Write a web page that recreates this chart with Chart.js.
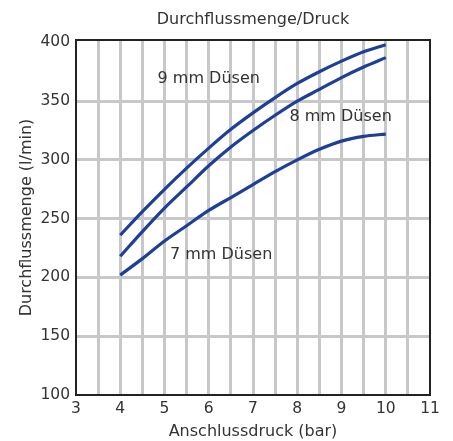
<!DOCTYPE html>
<html>
<head>
<meta charset="utf-8">
<script src="https://cdn.jsdelivr.net/npm/chart.js@4/dist/chart.umd.min.js"></script>
<style>
  html, body { margin: 0; padding: 0; background: #fff; }
  #wrap { width: 453px; height: 441px; }
</style>
</head>
<body>
<div id="wrap"><canvas id="c" width="453" height="441"></canvas></div>
<script>
const pressure = [4, 4.5, 5, 5.5, 6, 6.5, 7, 7.5, 8, 8.5, 9, 9.5, 10];
const flow9mm = [236, 256, 275, 293, 310, 326, 340, 353, 365, 375, 384, 392, 398];
const flow8mm = [218, 239, 259, 277, 295, 311, 325, 338, 350, 360, 370, 379, 387];
const flow7mm = [202, 216, 231, 244, 257, 268, 279, 290, 300, 309, 316, 320, 322];
const seriesNames = ['9 mm Düsen', '8 mm Düsen', '7 mm Düsen'];
const labelX = [6.0, 8.98, 6.28];
const labelY = [369, 337, 219];
const yTickValues = [100, 150, 200, 250, 300, 350, 400];
const chartTitle = 'Durchflussmenge/Druck';

const FONT = 'DejaVu Sans, Verdana, sans-serif';
const LINE = '#1e3f98';
const TEXT = '#333333';

function toPoints(ys) { return pressure.map((x, i) => ({x: x, y: ys[i]})); }

const framePlugin = {
  id: 'frame',
  beforeDatasetsDraw(chart) {
    const {ctx, chartArea: a} = chart;
    ctx.save();
    ctx.strokeStyle = '#222';
    ctx.lineWidth = 2;
    ctx.strokeRect(a.left, a.top, a.right - a.left, a.bottom - a.top);
    ctx.restore();
  },
  afterDatasetsDraw(chart) {
    const {ctx, scales, chartArea: a} = chart;
    ctx.save();
    ctx.fillStyle = TEXT;
    ctx.font = '16px ' + FONT;
    ctx.textAlign = 'center';
    ctx.textBaseline = 'middle';
    seriesNames.forEach((n, i) => {
      ctx.fillText(n, scales.x.getPixelForValue(labelX[i]), scales.y.getPixelForValue(labelY[i]));
    });
    ctx.fillText(chartTitle, (a.left + a.right) / 2, 20);
    ctx.restore();
  }
};

const ds = (data, label) => ({
  label: label, data: toPoints(data), borderColor: LINE, borderWidth: 3.2,
  pointRadius: 0, tension: 0.4, cubicInterpolationMode: 'monotone', fill: false
});

new Chart(document.getElementById('c'), {
  type: 'line',
  data: { datasets: [ds(flow9mm, seriesNames[0]), ds(flow8mm, seriesNames[1]), ds(flow7mm, seriesNames[2])] },
  plugins: [framePlugin],
  options: {
    responsive: false,
    animation: false,
    events: [],
    layout: { padding: { left: 0, right: 23, top: 40, bottom: 0 } },
    plugins: {
      legend: { display: false },
      tooltip: { enabled: false },
      title: { display: false }
    },
    scales: {
      x: {
        type: 'linear', min: 3, max: 11,
        afterFit(s) { s.height = 46; },
        grid: {
          color: (c) => (c.tick && (c.tick.value === 3 || c.tick.value === 11)) ? 'rgba(0,0,0,0)' : '#c8c8c8',
          lineWidth: 3, drawTicks: false
        },
        border: { display: false },
        ticks: {
          stepSize: 0.5, autoSkip: false, maxRotation: 0, padding: 5, color: TEXT,
          font: { family: FONT, size: 15.5 },
          callback: (v) => Number.isInteger(v) ? String(v) : ''
        },
        title: {
          display: true, text: 'Anschlussdruck (bar)', color: TEXT,
          font: { family: FONT, size: 16 }, padding: { top: 0, bottom: 0 }
        }
      },
      y: {
        type: 'linear', min: 100, max: 402,
        afterFit(s) { s.width = 76; },
        afterBuildTicks(s) { s.ticks = yTickValues.map(v => ({value: v})); },
        grid: {
          color: (c) => (c.tick && (c.tick.value === 100 || c.tick.value === 400)) ? 'rgba(0,0,0,0)' : '#c8c8c8',
          lineWidth: 3, drawTicks: false
        },
        border: { display: false },
        ticks: { padding: 6, color: TEXT, font: { family: FONT, size: 15.5 } },
        title: {
          display: true, text: 'Durchflussmenge (l/min)', color: TEXT,
          font: { family: FONT, size: 16 }, padding: { top: 17.4, bottom: 0 }
        }
      }
    }
  }
});
</script>
</body>
</html>
